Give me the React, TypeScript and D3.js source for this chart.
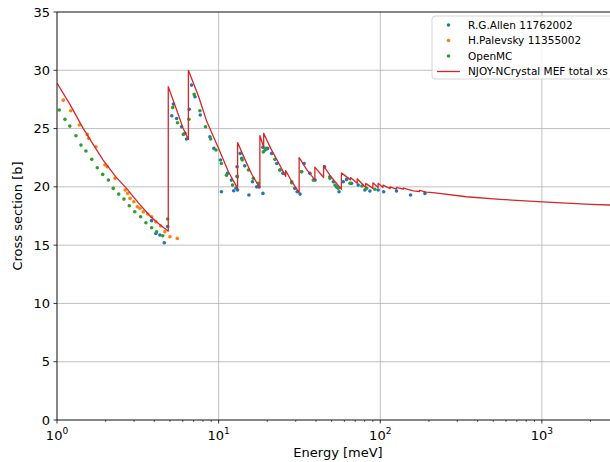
import React from "react";
import * as d3 from "d3";

// ---------- data ----------
const njoyE = [1.0, 1.2, 1.455, 1.7, 1.93, 2.3, 2.7, 3.2, 3.76, 4.3, 4.88,
  4.88, 5.5, 6.0, 6.5,
  6.5, 7.5, 8.45, 10, 11.5, 13.1,
  13.1, 14.5, 16, 18.0,
  18.0, 19.0,
  19.0, 21, 23, 26.0, 26.0, 28.5, 31.5,
  31.5, 35, 39.4, 39.4, 44.6, 44.6, 50, 57.5,
  57.5, 65.5, 65.5, 72, 72, 81.3, 81.3, 90, 90, 97, 97,
  104, 104, 115, 115, 126, 126, 139, 139, 160, 175, 175, 193, 212, 342, 549, 1008, 2000, 3000];
const njoyXS = [28.9, 27.1, 25.0, 23.5, 22.3, 20.9, 19.85, 18.6, 17.5, 16.8, 16.2,
  28.6, 26.6, 25.1, 24.07,
  30.0, 27.8, 25.6, 23.3, 21.3, 19.87,
  23.8, 22.4, 21.1, 19.9,
  24.4, 23.4,
  24.6, 23.3, 22.3, 20.9, 21.4, 20.4, 19.5,
  22.5, 21.5, 20.6, 21.7, 20.8, 21.8, 20.8, 19.8,
  21.2, 20.6, 20.8, 20.3, 20.7, 19.95, 20.3, 19.87, 20.35, 19.95, 20.3,
  19.95, 20.15, 19.85, 20.0, 19.8, 19.95, 19.8, 19.9, 19.65, 19.6, 19.7, 19.55, 19.5, 19.15, 18.93, 18.72, 18.5, 18.42];

const allenE = [3.85, 4.09, 4.33, 4.61, 4.84, 5.13, 5.25, 5.5, 5.9, 6.19, 6.33, 6.58, 6.8, 7.14, 7.7,
  8.83, 9.35, 10.27, 10.4, 11.35, 12.0, 12.4, 12.8, 13.0, 13.05, 13.1, 13.6, 13.9, 14.5, 15.4, 16.2,
  17.2, 17.7, 18.8, 18.8, 19.4, 19.9, 20.1, 21.3, 22.9, 23.9, 25.0, 28.3, 29.6, 30.6, 31.9, 32.6,
  33.8, 36.7, 39.5, 45.2, 48.8, 51.2, 53.6, 55.6, 59, 61.9, 66.4, 73, 80.3, 86.3, 97, 105, 126, 154, 189];
const allenXS = [17.1, 16.0, 15.87, 15.2, 16.6, 26.1, 27.1, 25.87, 25.15, 24.59, 24.1, 26.65, 28.73, 27.73, 26.16,
  24.3, 23.3, 22.3, 19.58, 21.16, 20.58, 19.67, 19.9, 21.73, 20.87, 19.73, 22.87, 22.44, 21.8, 19.3, 20.44,
  20.0, 20.0, 23.39, 19.44, 23.16, 23.27, 23.3, 22.87, 22.0, 21.44, 21.16, 20.44, 19.87, 19.58, 19.38, 21.3,
  22.0, 21.16, 20.58, 21.73, 20.87, 20.44, 20.0, 19.58, 20.44, 20.64, 20.3, 20.15, 19.73, 19.64, 19.73, 19.58, 19.64, 19.3, 19.44];

const palevskyE = [1.094, 1.215, 1.374, 1.539, 1.57, 1.742, 1.98, 2.05, 2.285, 2.645, 2.74, 2.83, 2.99,
  3.14, 3.26, 3.42, 3.64, 3.85, 4.09, 4.38, 4.65, 5.0, 5.55];
const palevskyXS = [27.44, 26.53, 25.3, 24.5, 24.16, 23.44, 21.87, 21.72, 20.73, 19.73, 19.44, 19.01, 18.72,
  18.29, 18.16, 17.87, 17.67, 17.44, 17.0, 16.64, 16.15, 15.72, 15.58];

const openmcE = [1.033, 1.12, 1.2, 1.31, 1.407, 1.51, 1.64, 1.775, 1.918, 2.08, 2.23, 2.41, 2.595, 2.8, 3.03,
  3.29, 3.55, 3.85, 4.13, 4.51, 4.84, 5.2, 5.57, 6.05, 6.55, 7.06, 7.66, 8.3, 8.93, 9.63, 10.4, 11.18,
  12.2, 13.0, 14.0, 15.3, 16.4, 17.6, 18.9, 19.6, 22.3, 24.0, 28.3, 32.6, 38.5, 48.8, 52.5, 55, 65, 77, 82.3, 92.6];
const openmcXS = [26.59, 25.79, 25.21, 24.39, 23.58, 23.07, 22.36, 21.64, 21.07, 20.58, 19.87, 19.38, 18.95, 18.38, 17.87,
  17.44, 16.92, 16.49, 16.15, 15.8, 17.24, 26.8, 25.5, 24.5, 25.8, 27.93, 26.53, 25.16, 24.1, 23.16, 22.0, 21.0,
  20.15, 20.9, 22.3, 21.44, 20.73, 20.3, 23.0, 23.3, 22.36, 21.44, 20.36, 21.3, 20.58, 20.73, 20.15, 19.87, 20.3, 20.07, 19.87, 19.79];

const yTicks = [0, 5, 10, 15, 20, 25, 30, 35];
const xMajor = [1, 10, 100, 1000];
const xExp = ["0", "1", "2", "3"];

const legendLabels = ["R.G.Allen 11762002", "H.Palevsky 11355002", "OpenMC", "NJOY-NCrystal MEF total xs"];

// ---------- layout ----------
const W = 610, H = 462;
const L = 57, R = 619, T = 12, B = 420;
const C_BLUE = "#1f77b4", C_ORANGE = "#ff7f0e", C_GREEN = "#2ca02c", C_RED = "#d62728";
const FONT = "DejaVu Sans, sans-serif";

export default function App() {
  const x = d3.scaleLog().domain([1, 3000]).range([L, R]);
  const y = d3.scaleLinear().domain([0, 35]).range([B, T]);

  const minor: number[] = [];
  for (let k = 0; k < 4; k++) {
    for (let m = 2; m <= 9; m++) {
      const v = m * Math.pow(10, k);
      if (v <= 3000) minor.push(v);
    }
  }

  const line = d3.line<number>().x((_, i) => x(njoyE[i])).y((d) => y(d));
  const redPath = line(njoyXS) || "";

  const dots = (es: number[], vs: number[], color: string) =>
    es.map((e, i) => <circle key={i} cx={x(e)} cy={y(vs[i])} r={1.8} fill={color} />);

  const rowY = [25, 40.5, 56, 71.5];

  return (
    <svg width={W} height={H} style={{ position: "absolute", left: 0, top: 0, background: "white" }}
      fontFamily={FONT}>
      <defs>
        <clipPath id="plotclip">
          <rect x={L} y={T} width={R - L} height={B - T} />
        </clipPath>
      </defs>
      <rect x={0} y={0} width={W} height={H} fill="white" />
      {/* grid */}
      {yTicks.map((t) => (
        <line key={"gy" + t} x1={L} x2={R} y1={y(t)} y2={y(t)} stroke="#b0b0b0" strokeWidth={0.8} />
      ))}
      {xMajor.map((t) => (
        <line key={"gx" + t} x1={x(t)} x2={x(t)} y1={T} y2={B} stroke="#b0b0b0" strokeWidth={0.8} />
      ))}
      {/* data */}
      <g clipPath="url(#plotclip)">
        {dots(allenE, allenXS, C_BLUE)}
        {dots(palevskyE, palevskyXS, C_ORANGE)}
        {dots(openmcE, openmcXS, C_GREEN)}
        <path d={redPath} fill="none" stroke={C_RED} strokeWidth={1.3} strokeLinejoin="round" />
      </g>
      {/* spines */}
      <line x1={L} x2={L} y1={T} y2={B} stroke="black" strokeWidth={0.8} />
      <line x1={L} x2={R} y1={B} y2={B} stroke="black" strokeWidth={0.8} />
      <line x1={L} x2={R} y1={T} y2={T} stroke="black" strokeWidth={0.8} />
      <line x1={R} x2={R} y1={T} y2={B} stroke="black" strokeWidth={0.8} />
      {/* y ticks */}
      {yTicks.map((t) => (
        <g key={"yt" + t}>
          <line x1={L - 3.5} x2={L} y1={y(t)} y2={y(t)} stroke="black" strokeWidth={0.8} />
          <text x={L - 7} y={y(t)} dy="0.35em" textAnchor="end" fontSize={13}>{t}</text>
        </g>
      ))}
      {/* x ticks */}
      {minor.map((t) => (
        <line key={"mx" + t} x1={x(t)} x2={x(t)} y1={B} y2={B + 2} stroke="black" strokeWidth={0.6} />
      ))}
      {xMajor.map((t, i) => (
        <g key={"xt" + t}>
          <line x1={x(t)} x2={x(t)} y1={B} y2={B + 3.5} stroke="black" strokeWidth={0.8} />
          <text x={x(t)} y={440} textAnchor="middle" fontSize={13}>
            10<tspan dy={-6} fontSize={9}>{xExp[i]}</tspan>
          </text>
        </g>
      ))}
      {/* axis labels */}
      <text x={(L + R) / 2} y={457} textAnchor="middle" fontSize={13}>Energy [meV]</text>
      <text transform={`translate(22,${(T + B) / 2}) rotate(-90)`} textAnchor="middle" fontSize={13}>
        Cross section [b]
      </text>
      {/* legend */}
      <g>
        <rect x={432} y={16} width={181} height={63} rx={3} fill="white" fillOpacity={0.8}
          stroke="#cccccc" strokeWidth={0.8} />
        {[C_BLUE, C_ORANGE, C_GREEN].map((c, i) => (
          <circle key={"lc" + i} cx={448.5} cy={rowY[i]} r={1.8} fill={c} />
        ))}
        <line x1={437} x2={460} y1={rowY[3]} y2={rowY[3]} stroke={C_RED} strokeWidth={1.3} />
        {legendLabels.map((s, i) => (
          <text key={"lt" + i} x={468} y={rowY[i]} dy="0.35em" fontSize={10.5}>{s}</text>
        ))}
      </g>
    </svg>
  );
}
